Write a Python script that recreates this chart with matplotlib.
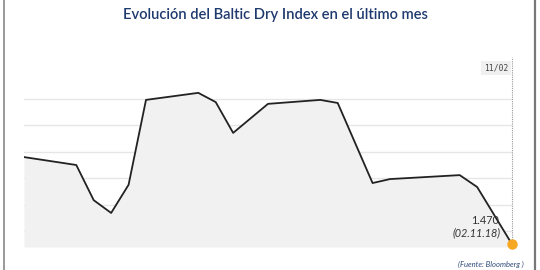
import matplotlib
matplotlib.use("Agg")
import matplotlib.pyplot as plt
import pandas as pd

# Baltic Dry Index, último mes
fechas = ["2018-10-05", "2018-10-08", "2018-10-09", "2018-10-10", "2018-10-11",
          "2018-10-12", "2018-10-15", "2018-10-16", "2018-10-17", "2018-10-19",
          "2018-10-22", "2018-10-23", "2018-10-25", "2018-10-26", "2018-10-30",
          "2018-10-31", "2018-11-02"]
valores = [1668, 1650, 1570, 1541, 1605, 1798, 1814, 1793, 1723, 1789,
           1798, 1791, 1609, 1618, 1627, 1600, 1470]
titulo = "Evolución del Baltic Dry Index en el último mes"
etiqueta_ultimo = "1.470"
fecha_ultimo = "(02.11.18)"
etiqueta_fecha = "11/02"
fuente = "(Fuente: Bloomberg )"

fechas = pd.to_datetime(fechas)
ymin, ymax = 1463.6, 1895.5

fig = plt.figure(figsize=(5.4, 2.7), dpi=100)
ax = fig.add_axes([24 / 540, 23 / 270, 488 / 540, 190 / 270])

ax.fill_between(fechas, valores, ymin, color="#f1f1f1", lw=0, zorder=1)
ax.plot(fechas, valores, color="#222222", lw=1.3, zorder=3)
ax.plot([fechas[-1], fechas[-1]], [valores[-1], ymax], color="#999999",
        lw=0.8, ls=(0, (1, 1)), zorder=2, clip_on=False)
ax.plot(fechas[-1], valores[-1], "o", color="#f7a823", ms=7.5, mec="none",
        zorder=4, clip_on=False)

ax.set_xlim(fechas[0], fechas[-1])
ax.set_ylim(ymin, ymax)
ax.set_yticks([1500, 1560, 1620, 1680, 1740, 1800])
ax.grid(axis="y", color="#e6e6e6", lw=1, zorder=0)
ax.set_axisbelow(True)
ax.tick_params(left=False, bottom=False, labelleft=False, labelbottom=False)
for s in ax.spines.values():
    s.set_visible(False)

ax.annotate(etiqueta_ultimo, (fechas[-1], valores[-1]), xytext=(-9, 17),
            textcoords="offset points", ha="right", va="center",
            fontsize=7.8, color="#333333", family="Lato")
ax.annotate(fecha_ultimo, (fechas[-1], valores[-1]), xytext=(-8, 8.5),
            textcoords="offset points", ha="right", va="center",
            fontsize=7.8, color="#333333", family="Lato", style="italic")
ax.annotate(etiqueta_fecha, (fechas[-1], ymax), xytext=(-2.5, -8),
            textcoords="offset points", ha="right", va="center",
            fontsize=5.8, color="#444444", family="DejaVu Sans Mono",
            bbox=dict(boxstyle="square,pad=0.35", fc="#f0f0f0", ec="none"))

fig.text(0.51, 1 - 15 / 270, titulo, ha="center", va="center",
         fontsize=10.6, color="#1f3a6e", family="Lato", weight="semibold")
fig.text(524 / 540, 1 - 264 / 270, fuente, ha="right", va="center",
         fontsize=5.5, color="#2f4a7a", family="Lato", style="italic")

# marco lateral
fig.add_artist(plt.Line2D([4 / 540, 4 / 540], [0, 1], color="#888888", lw=1.2))
fig.add_artist(plt.Line2D([535 / 540, 535 / 540], [0, 1], color="#777777", lw=1.6))

fig.savefig("out.png", dpi=100)
